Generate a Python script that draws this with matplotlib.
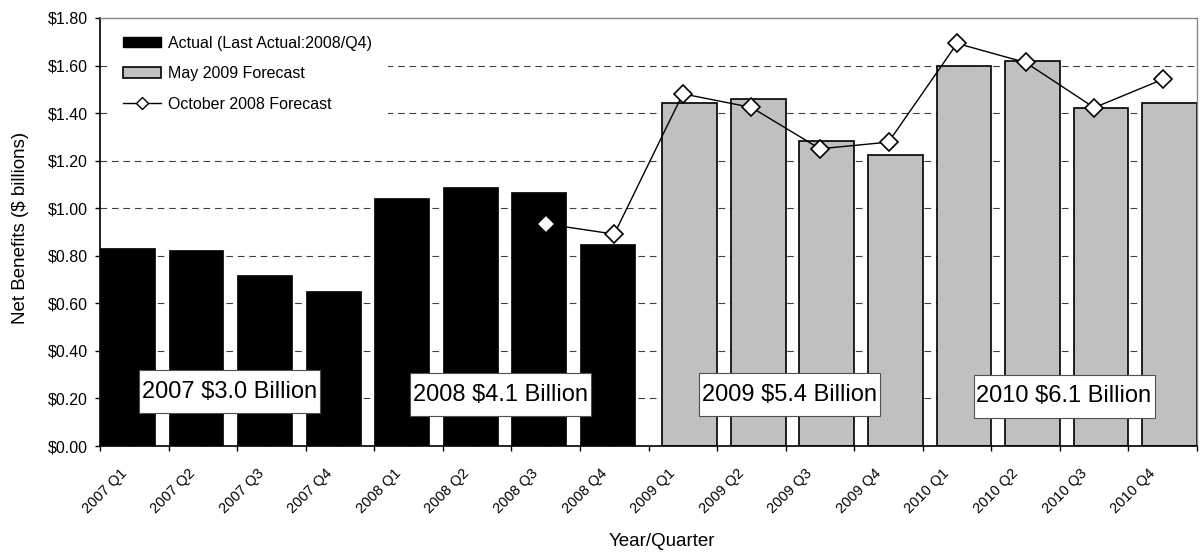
import matplotlib.pyplot as plt
import numpy as np
from matplotlib.patches import Patch, Rectangle
from matplotlib.lines import Line2D
from matplotlib.ticker import FuncFormatter, FixedLocator
from matplotlib.transforms import ScaledTranslation

plt.rcParams['font.family'] = ['Liberation Sans', 'DejaVu Sans']

# data
quarters = ['2007 Q1', '2007 Q2', '2007 Q3', '2007 Q4',
            '2008 Q1', '2008 Q2', '2008 Q3', '2008 Q4',
            '2009 Q1', '2009 Q2', '2009 Q3', '2009 Q4',
            '2010 Q1', '2010 Q2', '2010 Q3', '2010 Q4']
actual = [0.832, 0.824, 0.719, 0.653, 1.042, 1.088, 1.067, 0.851]
may2009 = [1.442, 1.461, 1.283, 1.223, 1.599, 1.619, 1.423, 1.441]
oct2008 = [0.934, 0.891, 1.481, 1.424, 1.250, 1.278, 1.693, 1.613, 1.423, 1.542]
year_totals = ['2007 $3.0 Billion', '2008 $4.1 Billion',
               '2009 $5.4 Billion', '2010 $6.1 Billion']

# layout of the year boxes (category units / value units)
box_x = [1.39, 5.34, 9.56, 13.56]
box_y = [0.228, 0.215, 0.216, 0.210]
box_w, box_h = 2.64, 0.181

x = np.arange(len(quarters))
x_act = x[:len(actual)]
x_may = x[len(actual):]
x_oct = x[len(x) - len(oct2008):]

fig = plt.figure(figsize=(12.01, 5.52), dpi=100)
ax = fig.add_axes([0.0833, 0.192, 0.9134, 0.7754])

ax.bar(x_act - 0.1, actual, width=0.8, color='black', edgecolor='black',
       linewidth=0.5, zorder=2)
ax.bar(x_may + 0.1, may2009, width=0.8, color='#C0C0C0', edgecolor='black',
       linewidth=1.2, zorder=2)
ax.plot(x_oct, oct2008, color='black', linewidth=1.0, marker='D',
        markersize=9, markerfacecolor='white', markeredgecolor='black',
        markeredgewidth=1.2, zorder=3)

for t, bx, by in zip(year_totals, box_x, box_y):
    ax.add_patch(Rectangle((bx - box_w / 2, by - box_h / 2), box_w, box_h,
                           facecolor='white', edgecolor='#505050',
                           linewidth=0.8, zorder=4))
    ax.text(bx, by, t, fontsize=17, ha='center', va='center', zorder=5)

ax.set_xlim(-0.5, 15.5)
ax.set_ylim(0, 1.8)

ax.set_yticks(np.arange(0, 1.81, 0.2))
ax.yaxis.set_major_formatter(FuncFormatter(lambda v, p: '${:.2f}'.format(v)))
ax.tick_params(axis='y', direction='out', length=3.6, width=1, pad=5,
               labelsize=11.5, colors='black')

ax.set_xticks(x)
ax.set_xticklabels(quarters, rotation=45, ha='right', va='center',
                   rotation_mode='anchor', fontsize=10.5)
ax.xaxis.set_minor_locator(FixedLocator(np.arange(-0.5, 15.6, 1)))
ax.tick_params(axis='x', which='major', direction='in', length=3, width=1,
               pad=18)
ax.tick_params(axis='x', which='minor', direction='out', length=3.6, width=1)
shift = ScaledTranslation(-7 / 72, 0, fig.dpi_scale_trans)
for lab in ax.get_xticklabels():
    lab.set_transform(lab.get_transform() + shift)

for yv in np.arange(0.2, 1.7, 0.2):
    ax.axhline(yv, color='#404040', linewidth=0.8,
               linestyle=(0, (6, 4.3)), zorder=1)

for s in ['left', 'bottom']:
    ax.spines[s].set_color('black')
    ax.spines[s].set_linewidth(1.2)
for s in ['top', 'right']:
    ax.spines[s].set_color('#888888')
    ax.spines[s].set_linewidth(1.0)

ax.set_ylabel('Net Benefits ($ billions)', fontsize=13.5)
ax.yaxis.set_label_coords(-0.065, 0.509)
ax.set_xlabel('Year/Quarter', fontsize=13.5)
ax.xaxis.set_label_coords(0.512, -0.203)

handles = [Patch(facecolor='black', edgecolor='black'),
           Patch(facecolor='#C0C0C0', edgecolor='black', linewidth=1.2),
           Line2D([], [], color='black', linewidth=1.0, marker='D',
                  markersize=6, markerfacecolor='white',
                  markeredgecolor='black')]
labels = ['Actual (Last Actual:2008/Q4)', 'May 2009 Forecast',
          'October 2008 Forecast']
leg = ax.legend(handles, labels, loc='upper left',
                bbox_to_anchor=(0.0064, 0.9958), frameon=True,
                facecolor='white', edgecolor='none', framealpha=1,
                fancybox=False, fontsize=11.5, borderpad=1.0,
                borderaxespad=0, handlelength=2.4, handleheight=0.65,
                handletextpad=0.4, labelspacing=0.97)
leg.set_zorder(6)

plt.savefig('out.png', dpi=100)
plt.close()
